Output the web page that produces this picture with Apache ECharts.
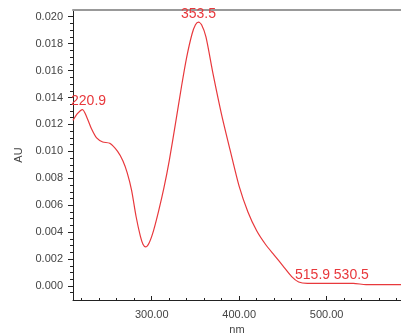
<!DOCTYPE html>
<html>
<head>
<meta charset="utf-8">
<script src="https://cdn.jsdelivr.net/npm/echarts@6/dist/echarts.min.js"></script>
<style>
  html, body { margin: 0; padding: 0; background: #fff; }
  #main { width: 401px; height: 336px; }
</style>
</head>
<body>
<div id="main"></div>
<script>
// spectrum
var wavelength = [210, 215, 220.9, 226, 231, 237, 244, 252, 261, 267, 272, 277, 282, 287, 290, 293, 297, 302, 308, 314, 320, 327, 334, 340, 346, 350, 353.5, 357, 362, 370, 380, 390, 400, 410, 420, 430, 440, 450, 460, 468, 478, 490, 505, 515.9, 530.5, 545, 560, 575, 585];
var absorbance = [0.0123, 0.0128, 0.0131, 0.0125, 0.0117, 0.0110, 0.0107, 0.0106, 0.0100, 0.0093, 0.0084, 0.0071, 0.0052, 0.0037, 0.0031, 0.0029, 0.0032, 0.0041, 0.0056, 0.0073, 0.0093, 0.0120, 0.0148, 0.0170, 0.0187, 0.0194, 0.0196, 0.0194, 0.0185, 0.0158, 0.0127, 0.0100, 0.0074, 0.0055, 0.0041, 0.0031, 0.0023, 0.0015, 0.0007, 0.0003, 0.0002, 0.0002, 0.0002, 0.0002, 0.0002, 0.0001, 0.0001, 0.0001, 0.0001];

// peak labels
var peakX = [220.9, 353.5, 515.9, 530.5];
var peakY = [0.0131, 0.0196, 0.0002, 0.0002];
var peakShift = [6, 0, -28, -2];

// ticks
var xTicks = [300, 400, 500];
var xMinorTicks = [220, 240, 260, 280, 320, 340, 360, 380, 420, 440, 460, 480, 520, 540, 560, 580];
var yTicks = [0, 0.002, 0.004, 0.006, 0.008, 0.010, 0.012, 0.014, 0.016, 0.018, 0.020];
var yMinorTicks = [-0.0005, 0.0005, 0.001, 0.0015, 0.0025, 0.003, 0.0035, 0.0045, 0.005, 0.0055,
  0.0065, 0.007, 0.0075, 0.0085, 0.009, 0.0095, 0.0105, 0.011, 0.0115, 0.0125, 0.013, 0.0135,
  0.0145, 0.015, 0.0155, 0.0165, 0.017, 0.0175, 0.0185, 0.019, 0.0195];

var xMin = 210, xMax = 585;
var yMin = -0.00104, yMax = 0.0205;

var red = '#e8383c';
var font = 'Liberation Sans, Arial, sans-serif';

var myChart = echarts.init(document.getElementById('main'));

var points = wavelength.map(function (w, i) { return [w, absorbance[i]]; });
var peaks = peakX.map(function (w, i) {
  return {
    coord: [w, peakY[i]],
    value: w.toFixed(1),
    label: { offset: [peakShift[i], 0] }
  };
});

var option = {
  animation: false,
  backgroundColor: '#fff',
  grid: { left: 73, right: 0, top: 10, bottom: 36, containLabel: false, outerBoundsMode: 'none' },
  xAxis: [
    {
      type: 'value', min: xMin, max: xMax, position: 'bottom',
      axisLine: { show: true, onZero: false, lineStyle: { color: '#222', width: 1 } },
      axisTick: { show: true, inside: true, length: 4, customValues: xTicks, lineStyle: { color: '#222' } },
      axisLabel: {
        customValues: xTicks, margin: 9, color: '#444', fontSize: 11, fontFamily: font,
        formatter: function (v) { return v.toFixed(2); }
      },
      splitLine: { show: false },
      name: 'nm', nameLocation: 'middle', nameGap: 24,
      nameTextStyle: { color: '#444', fontSize: 11, fontFamily: font }
    },
    {
      type: 'value', min: xMin, max: xMax, position: 'bottom',
      axisLine: { show: false, onZero: false },
      axisTick: { show: true, inside: true, length: 2, customValues: xMinorTicks, lineStyle: { color: '#222' } },
      axisLabel: { show: false },
      splitLine: { show: false }
    },
    {
      type: 'value', min: xMin, max: xMax, position: 'top',
      axisLine: { show: true, onZero: false, lineStyle: { color: '#999', width: 2 } },
      axisTick: { show: false },
      axisLabel: { show: false },
      splitLine: { show: false }
    }
  ],
  yAxis: [
    {
      type: 'value', min: yMin, max: yMax, position: 'left',
      axisLine: { show: true, onZero: false, lineStyle: { color: '#222', width: 1 } },
      axisTick: { show: true, inside: false, length: 5, customValues: yTicks, lineStyle: { color: '#222' } },
      axisLabel: {
        customValues: yTicks, margin: 10, color: '#444', fontSize: 11, fontFamily: font,
        formatter: function (v) { return v.toFixed(3); }
      },
      splitLine: { show: false },
      name: 'AU', nameLocation: 'middle', nameGap: 48, nameRotate: 90,
      nameTextStyle: { color: '#444', fontSize: 11, fontFamily: font }
    },
    {
      type: 'value', min: yMin, max: yMax, position: 'left',
      axisLine: { show: false, onZero: false },
      axisTick: { show: true, inside: false, length: 3, customValues: yMinorTicks, lineStyle: { color: '#222' } },
      axisLabel: { show: false },
      splitLine: { show: false }
    }
  ],
  series: [
    {
      type: 'line',
      xAxisIndex: 0,
      yAxisIndex: 0,
      data: points,
      smooth: 0.25,
      showSymbol: false,
      lineStyle: { color: red, width: 1.2 },
      markPoint: {
        symbol: 'circle',
        symbolSize: 0,
        silent: true,
        label: {
          show: true, position: 'top', distance: 1,
          color: red, fontSize: 14, fontFamily: font,
          formatter: function (p) { return p.value; }
        },
        data: peaks
      }
    }
  ]
};

myChart.setOption(option);
</script>
</body>
</html>
